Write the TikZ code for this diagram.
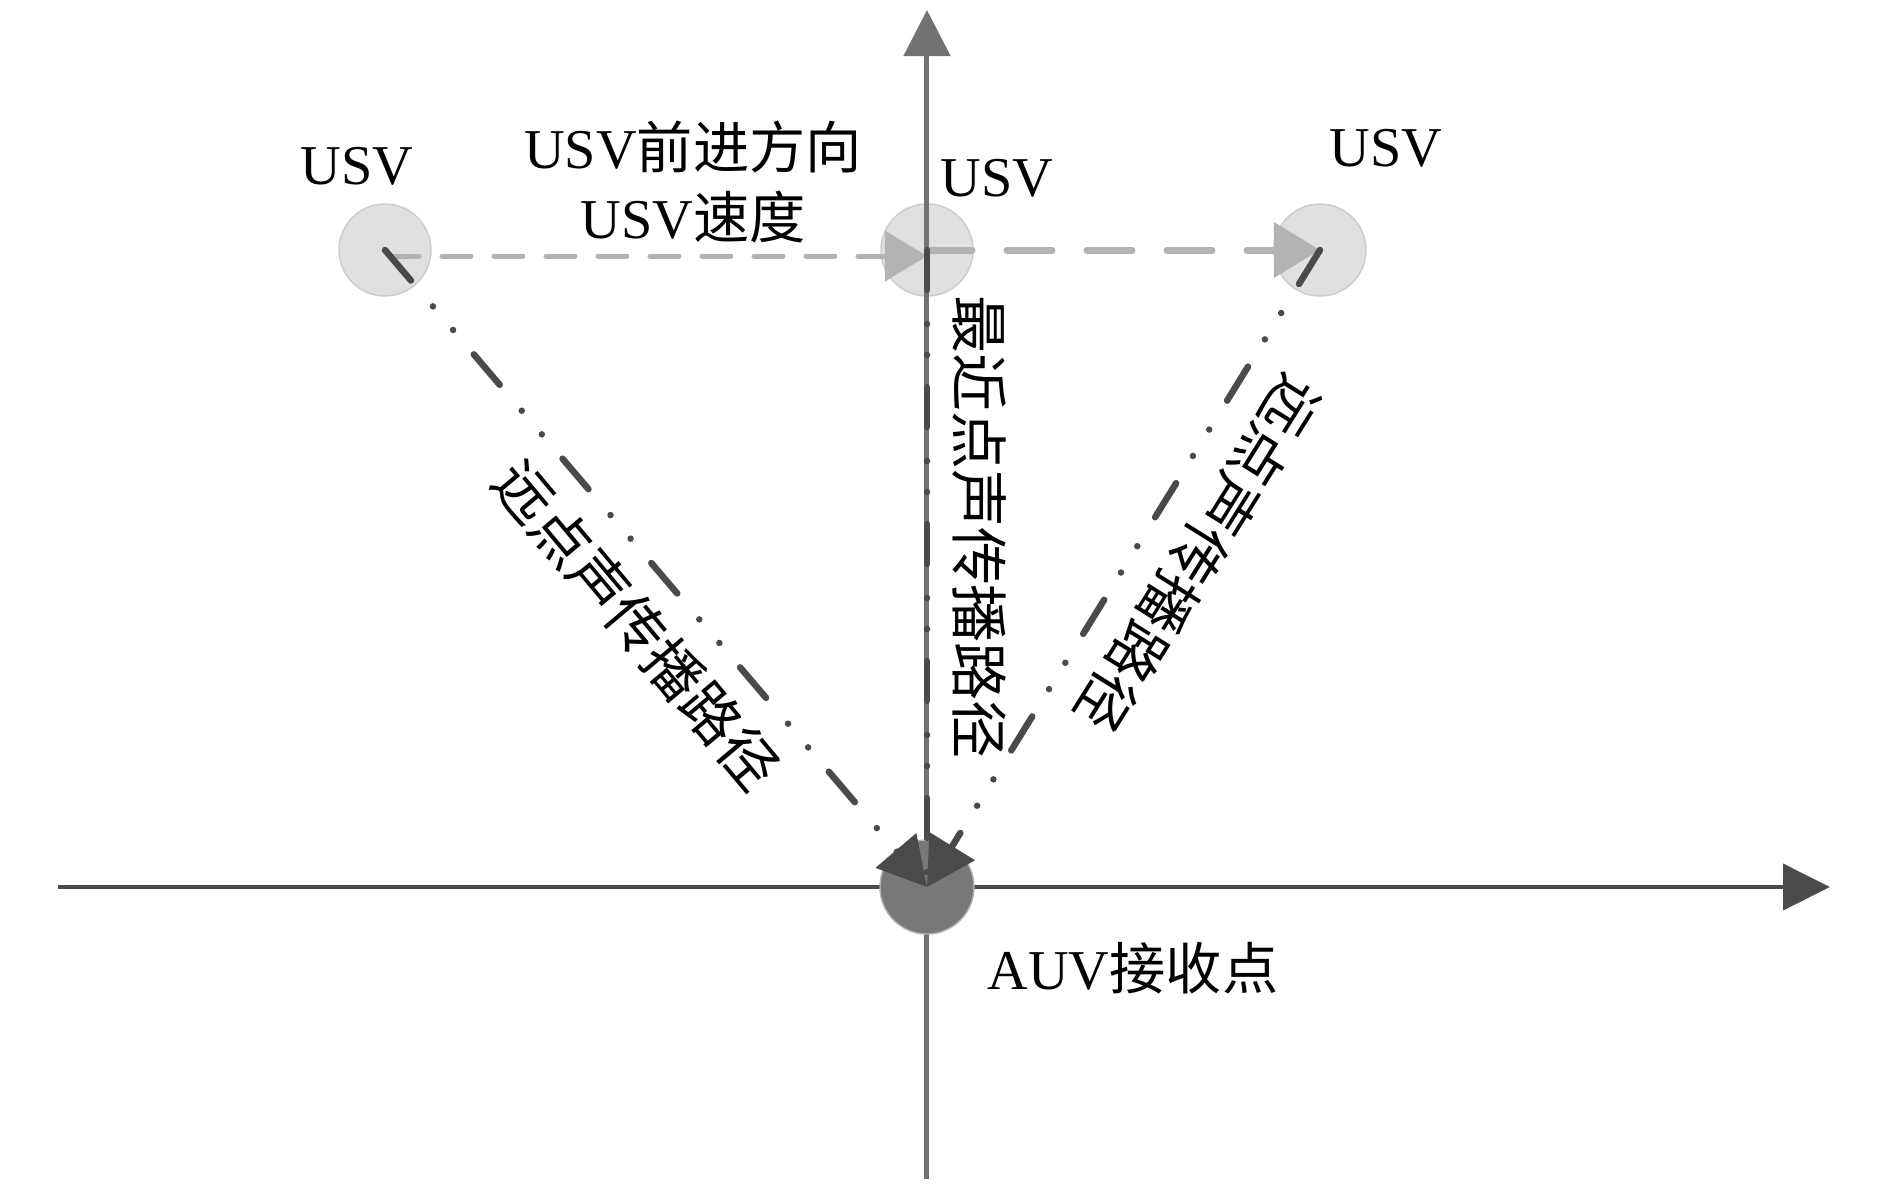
\documentclass[tikz,border=0pt]{standalone}
\usepackage{fontspec}
\setmainfont{Liberation Serif}
\newfontfamily\cjk{Noto Sans CJK SC}
\usepackage{xcolor}
\usepackage{tikz}
\usetikzlibrary{arrows.meta, positioning}
\definecolor{axisdark}{HTML}{4A4A4A}
\definecolor{axisgray}{HTML}{727272}
\definecolor{pathdark}{HTML}{4A4A4A}
\definecolor{usvfill}{HTML}{E0E0E0}
\definecolor{usvedge}{HTML}{CCCCCC}
\definecolor{auvfill}{HTML}{787878}
\definecolor{speedgray}{HTML}{B3B3B3}
\tikzset{
  usv/.style={
    circle, minimum size=0.92cm, inner sep=0pt,
    fill=usvfill, draw=usvedge, thin
  },
  auv/.style={
    circle, minimum size=0.94cm, inner sep=0pt,
    fill=auvfill, draw=gray!60
  },
  haxis/.style={draw=axisdark, line width=0.04cm,
    -{Triangle[length=0.47cm, width=0.46cm]}},
  vaxis/.style={draw=axisgray, line width=0.05cm,
    -{Triangle[length=0.46cm, width=0.46cm]}},
  speedA/.style={draw=speedgray, line width=0.05cm, line cap=round,
    dash pattern=on 0.29cm off 0.23cm,
    -{Triangle[length=0.42cm, width=0.5cm]}},
  speedB/.style={draw=speedgray, line width=0.07cm, line cap=round,
    dash pattern=on 0.45cm off 0.35cm,
    -{Triangle[length=0.46cm, width=0.54cm]}},
  wave/.style={draw=pathdark, line width=0.065cm, line cap=round,
    dash pattern=on 0.40cm off 0.34cm on 0cm off 0.31cm on 0cm off 0.32cm},
  arr/.style={-{Triangle[length=0.48cm, width=0.52cm]}},
  lbl/.style={font=\fontsize{16}{19}\selectfont, inner sep=1pt},
  pathlbl/.style={font=\fontsize{16.5}{19}\selectfont\cjk, inner sep=1pt}
}

\begin{document}
\begin{tikzpicture}

  \fill[white] (-9.27,-3.04) rectangle (9.63,8.87);
  \useasboundingbox (-9.27,-3.04) rectangle (9.63,8.87);

  % ---- USV positions ----
  \node[usv] (usvL) at (-5.42,6.37) {};
  \node[usv] (usvM) at (0,6.37)     {};
  \node[usv] (usvR) at (3.93,6.37)  {};

  % ---- Axes ----
  \coordinate (xl) at (-8.69,0);
  \coordinate (xr) at (9.03,0);
  \coordinate (yb) at (0,-2.92);
  \coordinate (yt) at (0,8.77);
  \draw[haxis] (xl) -- (xr);
  \draw[vaxis] (yb) -- (yt);

  % ---- USV motion ----
  \draw[speedA] ([xshift=0.05cm, yshift=-0.06cm]usvL.center) -- ([yshift=-0.06cm]usvM.center);
  \draw[speedB] (usvM.center) -- (usvR.center);

  % ---- AUV ----
  \node[auv] (auv) at (0,0) {};

  % ---- Sound paths ----
  \draw[wave] (usvM.center) -- (auv.center);
  \draw[wave, arr] (usvL.center) -- (auv.center);
  \draw[wave, arr] (usvR.center) -- (auv.center);

  % ---- Labels ----
  \node[lbl] (tL)   at (-5.70,7.21) {USV};
  \node[lbl] (tM)   at (0.70,7.09)  {USV};
  \node[lbl] (tR)   at (4.59,7.39)  {USV};
  \node[lbl] (dir)  at (-2.34,7.40) {USV{\cjk 前进方向}};
  \node[lbl] (vel)  at (-2.34,6.70) {USV{\cjk 速度}};
  \node[lbl] (recv) at (2.06,-0.81) {AUV{\cjk 接收点}};

  \node[pathlbl, rotate=-50]  (farL) at (-2.90,2.62) {远点声传播路径};
  \node[pathlbl, rotate=-90]  (near) at (0.52,3.60)  {最近点声传播路径};
  \node[pathlbl, rotate=-122] (farR) at (2.72,3.33)  {远点声传播路径};

\end{tikzpicture}
\end{document}
